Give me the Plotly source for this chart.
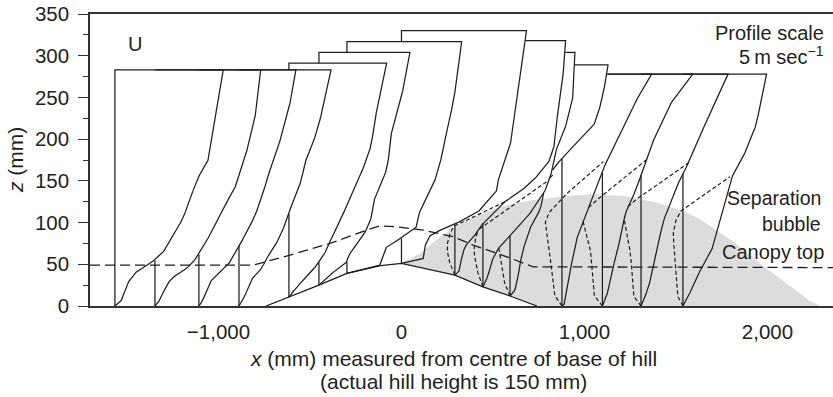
import numpy as np
import plotly.graph_objects as go

# Measurement stations along the wind-tunnel floor (mm from centre of hill base)
STATION_X = [-1566, -1347, -1107, -888, -615, -451, -298, 0, 292, 445, 593, 877, 1098, 1309, 1538]
GROUND_Z = [0, 0, 0, 0, 10.5, 25, 39, 51, 37, 23, 12, 0, 0, 0, 0]

# Mean velocity profiles U(z): heights (mm) and speeds (m/s), one list per station
PROFILE_Z = [
    [0, 7, 17, 31, 41, 49, 55, 67, 88, 105, 127, 145, 158, 167, 175, 207, 247, 283],
    [0, 7, 19, 31, 39, 45, 53, 61, 75, 91, 111, 123, 135, 147, 171, 199, 231, 283],
    [0, 7, 19, 31, 39, 48, 55, 67, 88, 108, 127, 143, 159, 179, 209, 251, 283],
    [0, 13, 23, 35, 45, 57, 69, 83, 103, 127, 151, 179, 207, 247, 283],
    [10.5, 25, 37, 51, 67, 83, 103, 127, 151, 175, 195, 223, 255, 291],
    [25, 30, 40, 48, 53, 59, 75, 91, 107, 131, 163, 187, 211, 263, 304],
    [39, 49, 57, 71, 83, 95, 115, 131, 155, 187, 211, 243, 283, 317],
    [51, 57, 75, 85, 95, 103, 115, 139, 155, 195, 263, 330],
    [37, 43, 59, 71, 79, 87, 100, 113, 127, 143, 159, 175, 195, 235, 287, 318],
    [23, 30, 40, 50, 60, 70, 80, 95, 115, 140, 165, 191, 219, 251, 304],
    [12, 19, 35, 51, 67, 83, 99, 115, 130, 147, 159, 179, 199, 219, 247, 279, 289],
    [0, 3, 39, 63, 87, 103, 123, 143, 163, 175, 199, 231, 255, 278],
    [0, 11, 23, 43, 63, 83, 95, 107, 119, 139, 151, 175, 207, 247, 278],
    [0, 11, 25, 45, 65, 85, 100, 115, 135, 155, 172, 215, 250, 278],
    [0, 5, 23, 47, 71, 99, 131, 159, 187, 219, 251, 278],
]
PROFILE_U = [
    [0, 0.92, 1.37, 1.95, 2.96, 4.33, 5.46, 6.83, 8.20, 9.29, 10.25, 10.93, 11.61, 12.16, 12.75, 13.43, 14.11, 14.80],
    [0, 0.68, 1.23, 2.05, 3.14, 4.33, 5.23, 5.92, 6.83, 7.92, 9.02, 9.70, 10.52, 11.20, 12.02, 12.98, 13.76, 14.44],
    [0, 0.55, 1.05, 1.73, 2.64, 3.78, 4.47, 5.15, 6.52, 7.65, 8.47, 9.02, 9.56, 10.38, 11.48, 12.66, 13.25],
    [0, 0.86, 1.27, 1.95, 3.10, 3.78, 4.69, 5.60, 6.52, 7.42, 8.57, 9.25, 10.61, 11.75, 12.57],
    [0, 1.27, 2.64, 4.00, 5.15, 5.83, 6.97, 8.33, 9.47, 10.61, 11.30, 11.75, 12.43, 13.35],
    [0, 0.68, 1.91, 3.01, 3.83, 3.96, 5.15, 6.52, 7.20, 7.65, 9.25, 9.70, 9.93, 11.61, 12.43],
    [0, 4.51, 4.74, 5.42, 7.69, 9.52, 9.97, 10.89, 12.25, 13.16, 13.62, 14.52, 15.20, 15.67],
    [0, 3.05, 3.28, 3.96, 6.24, 8.51, 10.79, 13.07, 13.29, 14.89, 16.02, 17.08],
    [0, 0.68, 0.92, 1.37, 2.05, 2.96, 3.87, 5.46, 7.06, 9.80, 11.61, 12.98, 13.66, 14.07, 14.93, 15.12],
    [0, 0.41, 0.82, 1.09, 1.50, 2.19, 3.14, 4.78, 6.83, 8.61, 9.56, 10.11, 11.48, 12.30, 12.57],
    [0, 0.68, 1.09, 1.37, 1.78, 2.32, 3.01, 4.10, 4.51, 4.78, 5.46, 7.24, 9.56, 11.61, 12.57, 13.25, 13.39],
    [0, 0.41, 1.09, 1.54, 2.23, 2.91, 3.83, 4.74, 5.64, 6.11, 7.47, 9.29, 10.66, 12.25],
    [0, 0.51, 0.96, 1.41, 1.87, 2.55, 2.77, 3.01, 3.46, 4.60, 5.05, 5.97, 7.34, 9.60, 12.34],
    [0, 0.55, 1.09, 1.64, 2.05, 2.60, 3.01, 3.55, 4.51, 5.46, 6.56, 8.61, 10.38, 11.89],
    [0, 0.27, 1.41, 2.55, 4.14, 5.05, 5.97, 6.87, 8.70, 10.07, 10.75, 11.43],
]

# Reverse-flow (pulsed-wire) profiles at the lee stations
REV_STATION = [8, 9, 10, 11, 12, 13, 14]
REV_Z = [
    [37, 47, 60, 72, 84, 95, 126],
    [23, 35, 50, 65, 80, 92, 150],
    [12, 25, 45, 65, 85, 100, 110, 157],
    [0, 11, 31, 59, 83, 99, 111, 121, 131, 173],
    [0, 11, 39, 63, 87, 103, 115, 123, 175],
    [0, 10, 35, 60, 85, 105, 118, 125, 172],
    [0, 10, 35, 60, 85, 100, 113, 155],
]
REV_U = [
    [0, -0.55, -0.96, -1.09, -0.82, -0.27, 7.10],
    [0, -0.55, -0.96, -1.23, -1.09, -0.55, 8.88],
    [0, -0.68, -1.09, -1.50, -1.64, -1.23, -0.41, 5.87],
    [0, -0.96, -1.19, -1.64, -2.09, -2.32, -1.87, -0.72, 0.18, 5.64],
    [0, -1.09, -1.33, -1.54, -2.23, -2.69, -2.23, -1.33, 5.97],
    [0, -0.96, -1.23, -1.37, -1.91, -2.32, -1.91, -1.09, 6.56],
    [0, -0.68, -0.96, -1.09, -1.37, -1.09, -0.41, 6.42],
]

# Hill surface (as drawn), canopy top and separation bubble outline
HILL_X = [-740, -615, -451, -298, -114, 0, 292, 445, 593, 740]
HILL_Z = [0, 10.5, 25, 39, 48.5, 51, 37, 23, 12, 0]
CANOPY_X = [-1702, -810, -609, -391, -190, -117, -26, 119, 283, 392, 575, 720, 2358]
CANOPY_Z = [49, 49, 61, 75, 91, 96, 95, 91, 83, 73, 59, 47, 46]
BUBBLE_X = [0, 101, 210, 356, 538, 720, 865, 1030, 1212, 1395, 1558, 1631, 1795, 1977, 2123, 2232, 2292,
            740, 593, 445, 292, 0]
BUBBLE_Z = [51, 63, 83, 103, 119, 127, 131, 134, 132, 124, 112, 104, 80, 48, 24, 6, 0,
            0, 12, 23, 37, 51]

MM_PER_MS = 40.0          # profile scale: 5 m/s spans 200 mm of x
SX, SY = 0.183, 0.834     # approx. screen pixels per mm on each axis (for sampling only)
INK = "#1e1e1e"


def outline(k):
    """Closed outline of profile k: baseline, top line, then the U(z) curve back down."""
    x0, g = STATION_X[k], GROUND_Z[k]
    z, u = PROFILE_Z[k], PROFILE_U[k]
    xs = [x0, x0] + [x0 + v * MM_PER_MS for v in reversed(u)]
    zs = [g, z[-1]] + list(reversed(z))
    return np.array(xs, float), np.array(zs, float)


def densify(xs, zs, step=0.6):
    ox, oz = [], []
    for i in range(len(xs) - 1):
        d = np.hypot((xs[i + 1] - xs[i]) * SX, (zs[i + 1] - zs[i]) * SY)
        n = max(1, int(np.ceil(d / step)))
        t = np.arange(n) / n
        ox.extend(xs[i] + (xs[i + 1] - xs[i]) * t)
        oz.extend(zs[i] + (zs[i + 1] - zs[i]) * t)
    ox.append(xs[-1])
    oz.append(zs[-1])
    return np.array(ox), np.array(oz)


def inside(px, py, polx, poly):
    xi, yi, xj, yj = polx[:-1], poly[:-1], polx[1:], poly[1:]
    P, Q = px[:, None], py[:, None]
    cond = (yi > Q) != (yj > Q)
    den = np.where(yj == yi, 1.0, yj - yi)
    xint = (xj - xi) * (Q - yi) / den + xi
    return ((cond & (P < xint)).sum(axis=1) % 2) == 1


def visible_path(xs, zs, front):
    """Sample a polyline and break it wherever it passes behind a front profile."""
    dx, dz = densify(xs, zs)
    hidden = np.zeros(len(dx), bool)
    for polx, poly in front:
        hidden |= inside(dx, dz, polx, poly)
    ox, oz = [], []
    prev = False
    for x, z, h in zip(dx, dz, hidden):
        if h:
            if prev:
                ox.append(None)
                oz.append(None)
            prev = False
        else:
            ox.append(float(x))
            oz.append(float(z))
            prev = True
    return ox, oz


fig = go.Figure()

# separation bubble
fig.add_trace(go.Scatter(x=BUBBLE_X, y=BUBBLE_Z, mode="lines", fill="toself",
                         fillcolor="#dcdcdd", line=dict(width=0), hoverinfo="skip"))

polys = [outline(k) for k in range(len(STATION_X))]

# velocity profiles, upstream ones drawn in front of those further downstream
for k, (px_, pz_) in enumerate(polys):
    vx, vz = visible_path(px_, pz_, polys[:k])
    fig.add_trace(go.Scatter(x=vx, y=vz, mode="lines", line=dict(color=INK, width=1.25),
                             hoverinfo="skip"))

for s, zl, ul in zip(REV_STATION, REV_Z, REV_U):
    xs = np.array([STATION_X[s] + v * MM_PER_MS for v in ul], float)
    zs = np.array(zl, float)
    vx, vz = visible_path(xs, zs, polys[:s])
    fig.add_trace(go.Scatter(x=vx, y=vz, mode="lines",
                             line=dict(color=INK, width=1.2, dash="4px,2.5px"), hoverinfo="skip"))

# hill surface and canopy top
fig.add_trace(go.Scatter(x=HILL_X, y=HILL_Z, mode="lines", line=dict(color=INK, width=1.25),
                         hoverinfo="skip"))
fig.add_trace(go.Scatter(x=CANOPY_X, y=CANOPY_Z, mode="lines",
                         line=dict(color=INK, width=1.3, dash="10px,5px"), hoverinfo="skip"))

L, T, W, H = 90, 14, 743, 292


def px(xp):
    return (xp - L) / W


def py(yp):
    return (T + H - yp) / H


def label(text, x, y, size, anchor="right", **kw):
    return dict(text=text, x=px(x), y=py(y), xref="paper", yref="paper", showarrow=False,
                xanchor=anchor, yanchor="middle", font=dict(size=size), **kw)


ann = [
    label("U", 135, 44, 20, "center"),
    label("Profile scale", 826, 33, 20),
    label("5\u2009m sec<sup>\u22121</sup>", 826, 55, 20),
    label("Separation", 823, 198, 19.5),
    label("bubble", 823, 224, 19.5),
    label("Canopy top", 826, 252, 20),
    label("<i>x</i> (mm) measured from centre of base of hill", 453, 358, 21, "center"),
    label("(actual hill height is 150 mm)", 453, 381, 21, "center"),
    label("<i>z</i> (mm)", 15, 160, 21, "center", textangle=-90),
]

fig.update_layout(
    width=833, height=397,
    margin=dict(l=L, r=833 - L - W, t=T, b=397 - T - H),
    paper_bgcolor="white", plot_bgcolor="white",
    showlegend=False,
    font=dict(family="Liberation Sans, Arial, sans-serif", size=20, color="#231f20"),
    annotations=ann,
    xaxis=dict(range=[-1702, 2358], showgrid=False, zeroline=False,
               showline=True, mirror=True, linecolor="#333", linewidth=1.5,
               tickvals=[-1000, 0, 1000, 2000],
               ticktext=["\u22121,000", "0", "1,000", "2,000"],
               tickfont=dict(size=20.5),
               ticks="outside", ticklen=7, tickcolor="rgba(0,0,0,0)"),
    yaxis=dict(range=[0, 350], showgrid=False, zeroline=False,
               showline=True, linecolor="#333", linewidth=1.5,
               tickvals=[0, 50, 100, 150, 200, 250, 300, 350],
               tickfont=dict(size=20.5), ticklabelstandoff=5,
               ticks="outside", ticklen=10, tickwidth=1.3, tickcolor="#333",
               minor=dict(ticks="outside", ticklen=5, dtick=25, tickcolor="#333", tickwidth=1.2)),
)

fig.write_html("out.html")
